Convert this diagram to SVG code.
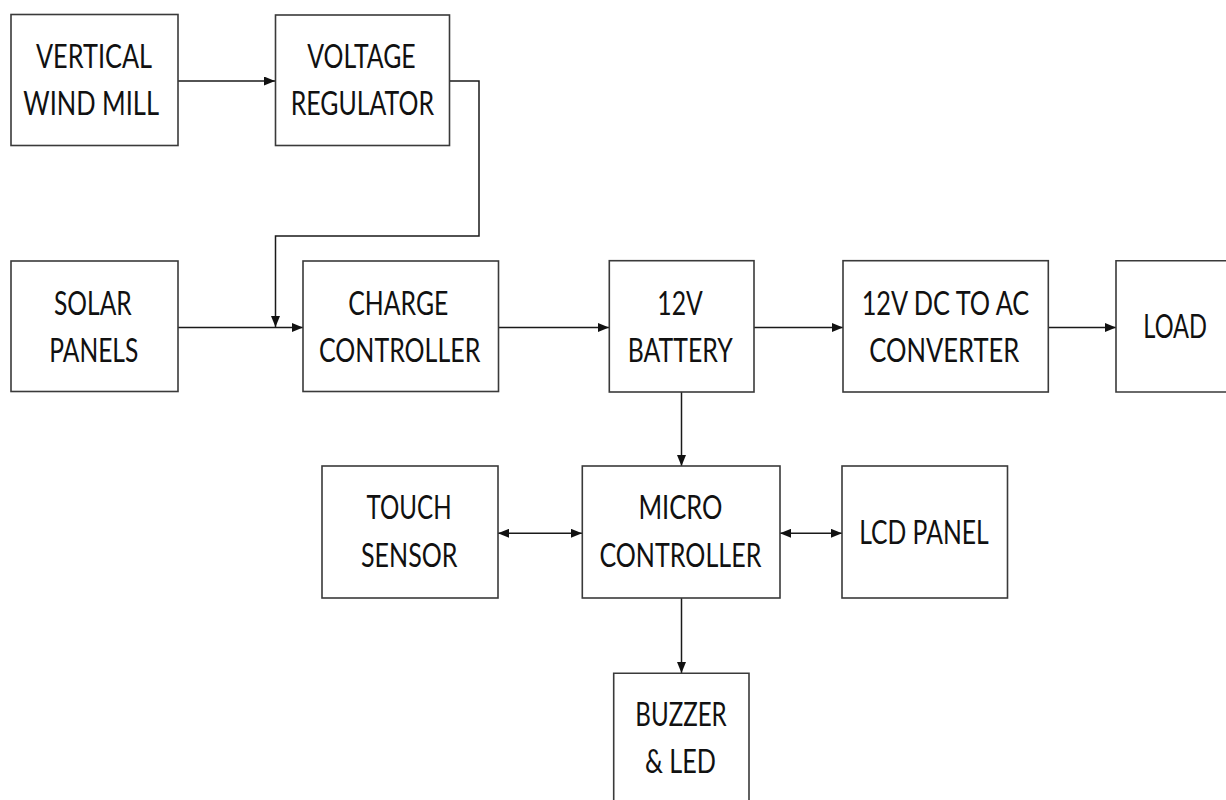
<svg xmlns="http://www.w3.org/2000/svg" width="1226" height="800" viewBox="0 0 1226 800">
<style>
.box{fill:#fff;stroke:#3a3a3a;stroke-width:1.6}
.t{font-family:Lato,"Open Sans","Liberation Sans",sans-serif;font-size:32px;fill:#111}
.ln{fill:none;stroke:#1a1a1a;stroke-width:1.5}
</style>
<defs>
<marker id="ah" viewBox="0 0 11 9" markerWidth="11" markerHeight="9" refX="11" refY="4.5" orient="auto-start-reverse" markerUnits="userSpaceOnUse">
<path d="M0,0 L11,4.5 L0,9 z" fill="#111"/>
</marker>
</defs>
<rect width="1226" height="800" fill="#fff"/>
<g id="connectors">
<path class="ln" d="M178,81 H275" marker-end="url(#ah)"/>
<path class="ln" d="M449,81 H479 V236 H275.5 V327" marker-end="url(#ah)"/>
<path class="ln" d="M178,327.5 H303" marker-end="url(#ah)"/>
<path class="ln" d="M498,327.5 H609" marker-end="url(#ah)"/>
<path class="ln" d="M754,327.5 H843" marker-end="url(#ah)"/>
<path class="ln" d="M1048,327.5 H1116" marker-end="url(#ah)"/>
<path class="ln" d="M681.5,392 V466" marker-end="url(#ah)"/>
<path class="ln" d="M498,533.3 H582" marker-start="url(#ah)" marker-end="url(#ah)"/>
<path class="ln" d="M780,533.3 H842" marker-start="url(#ah)" marker-end="url(#ah)"/>
<path class="ln" d="M681.5,598 V673" marker-end="url(#ah)"/>
</g>
<g id="wind">
<rect class="box" x="11" y="14.5" width="167" height="131"/>
<text class="t" x="36" y="68.3" textLength="116" lengthAdjust="spacingAndGlyphs">VERTICAL</text>
<text class="t" x="23.3" y="115" textLength="135.7" lengthAdjust="spacingAndGlyphs">WIND MILL</text>
</g>
<g id="regulator">
<rect class="box" x="275.5" y="15" width="174" height="130.5"/>
<text class="t" x="307.3" y="68.3" textLength="108.4" lengthAdjust="spacingAndGlyphs">VOLTAGE</text>
<text class="t" x="290.7" y="115" textLength="143.3" lengthAdjust="spacingAndGlyphs">REGULATOR</text>
</g>
<g id="solar">
<rect class="box" x="11" y="261" width="167" height="130.5"/>
<text class="t" x="54" y="315" textLength="77.7" lengthAdjust="spacingAndGlyphs">SOLAR</text>
<text class="t" x="49.3" y="361.7" textLength="89" lengthAdjust="spacingAndGlyphs">PANELS</text>
</g>
<g id="charge">
<rect class="box" x="303" y="261" width="195.5" height="130.5"/>
<text class="t" x="348.3" y="315" textLength="100" lengthAdjust="spacingAndGlyphs">CHARGE</text>
<text class="t" x="319" y="361.7" textLength="161.3" lengthAdjust="spacingAndGlyphs">CONTROLLER</text>
</g>
<g id="battery">
<rect class="box" x="609.3" y="260.7" width="144.7" height="131.3"/>
<text class="t" x="657.3" y="315" textLength="45.4" lengthAdjust="spacingAndGlyphs">12V</text>
<text class="t" x="627.7" y="361.7" textLength="105" lengthAdjust="spacingAndGlyphs">BATTERY</text>
</g>
<g id="converter">
<rect class="box" x="843" y="260.7" width="205.3" height="131.3"/>
<text class="t" x="861.7" y="315" textLength="167.6" lengthAdjust="spacingAndGlyphs">12V DC TO AC</text>
<text class="t" x="869.3" y="361.7" textLength="150" lengthAdjust="spacingAndGlyphs">CONVERTER</text>
</g>
<g id="load">
<path class="box" d="M1226,260.7 H1116 V392 H1226"/>
<text class="t" x="1175.2" y="337.7" text-anchor="middle" textLength="63.7" lengthAdjust="spacingAndGlyphs">LOAD</text>
</g>
<g id="touch">
<rect class="box" x="322" y="466" width="176" height="132"/>
<text class="t" x="366.6" y="519.3" textLength="85" lengthAdjust="spacingAndGlyphs">TOUCH</text>
<text class="t" x="361" y="566.7" textLength="96.5" lengthAdjust="spacingAndGlyphs">SENSOR</text>
</g>
<g id="micro">
<rect class="box" x="582.3" y="466" width="197.7" height="132"/>
<text class="t" x="638.4" y="519.3" textLength="84" lengthAdjust="spacingAndGlyphs">MICRO</text>
<text class="t" x="599.4" y="566.7" textLength="162" lengthAdjust="spacingAndGlyphs">CONTROLLER</text>
</g>
<g id="lcd">
<rect class="box" x="842" y="466" width="165.5" height="132"/>
<text class="t" x="859.2" y="544" textLength="129.5" lengthAdjust="spacingAndGlyphs">LCD PANEL</text>
</g>
<g id="buzzer">
<path class="box" d="M613.7,800 V673.3 H749 V800"/>
<text class="t" x="635.3" y="725.7" textLength="91.4" lengthAdjust="spacingAndGlyphs">BUZZER</text>
<text class="t" x="645" y="772.7" textLength="71" lengthAdjust="spacingAndGlyphs">&amp; LED</text>
</g>
</svg>
